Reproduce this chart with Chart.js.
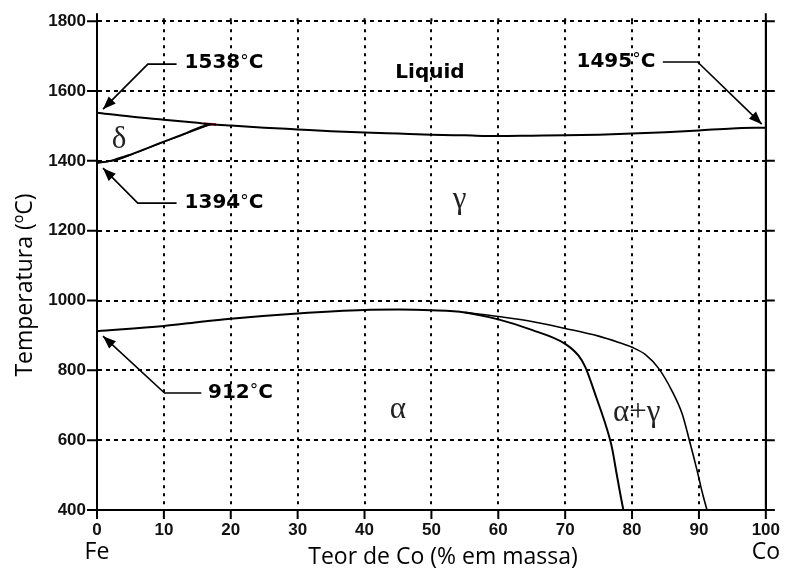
<!DOCTYPE html>
<html lang="pt-BR">
<head>
<meta charset="utf-8">
<title>Diagrama Fe-Co</title>
<script src="https://cdn.jsdelivr.net/npm/chart.js@4.4.1/dist/chart.umd.min.js"></script>
<style>
  html, body { margin: 0; padding: 0; background: #fff; }
  #grafico { display: block; }
</style>
</head>
<body>
<canvas id="grafico" width="790" height="574"></canvas>
<script>
// Diagrama de fases Fe-Co
const xTicks = [0, 10, 20, 30, 40, 50, 60, 70, 80, 90, 100];
const yTicks = [400, 600, 800, 1000, 1200, 1400, 1600, 1800];

// linha liquidus
const liquidus = [[0, 1538], [5, 1527], [10, 1518], [15, 1509], [17, 1505], [20, 1501], [25, 1495], [30, 1490],
  [35, 1485], [40, 1481], [45, 1478], [50, 1475], [55, 1473], [60, 1471], [65, 1472], [70, 1473],
  [75, 1475], [80, 1478], [85, 1482], [90, 1487], [95, 1493], [100, 1495]];
// limites inferiores da fase delta
const deltaLimite = [[0, 1394], [2, 1400], [5, 1418], [8, 1440], [10, 1455], [13, 1477], [15, 1493], [17, 1505]];
const deltaLimite2 = [[0, 1394], [3, 1403], [6, 1424], [9, 1447], [12, 1469], [15, 1490], [17, 1504]];
// trecho peritetico (vermelho)
const peritetico = [[16, 1506], [17.8, 1504]];
// limite alfa / alfa+gama
const alfaLimite = [[0, 912], [10, 927], [15, 938], [20, 948], [30, 963], [40, 973], [45, 974], [50, 972],
  [55, 966], [60, 946], [65, 916], [70, 876], [72, 842], [73, 810], [74.7, 720], [76.2, 635],
  [77, 578], [77.7, 503], [78.2, 450], [78.7, 400]];
// limite gama / alfa+gama
const gamaLimite = [[55, 966], [60, 954], [65, 940], [70, 920], [75, 898], [78, 880], [80, 866], [82, 845],
  [84, 805], [86, 740], [87.5, 675], [88.5, 605], [89.7, 515], [90.5, 450], [91.2, 400]];

// textos dentro do grafico
const rotulos = [
  { texto: '1538', x: 13.1, y: 1680, tipo: 'temp' },
  { texto: '1394', x: 13.1, y: 1279, tipo: 'temp' },
  { texto: '912', x: 16.6, y: 735, tipo: 'temp' },
  { texto: '1495', x: 71.7, y: 1683, tipo: 'temp' },
  { texto: 'Liquid', x: 44.6, y: 1651, tipo: 'nome' },
  { texto: 'δ', x: 3.3, y: 1459, tipo: 'fase' },
  { texto: 'γ', x: 54.2, y: 1287, tipo: 'fase' },
  { texto: 'α', x: 45, y: 686, tipo: 'fase' },
  { texto: 'α+γ', x: 80.7, y: 678, tipo: 'fase' }
];
const setas = [
  [[11.9, 1677], [7.6, 1677], [0.9, 1548]],
  [[11.9, 1279], [6.1, 1279], [0.9, 1379]],
  [[15.6, 735], [10.1, 735], [0.9, 898]],
  [[84.6, 1683], [89.8, 1683], [99.4, 1505]]
];

const pares = arr => arr.map(p => ({ x: p[0], y: p[1] }));

function curva(dados, cor, largura, suave) {
  return {
    data: pares(dados),
    borderColor: cor,
    borderWidth: largura,
    pointRadius: 0,
    fill: false,
    cubicInterpolationMode: suave ? 'monotone' : 'default',
    tension: 0
  };
}

const extras = {
  id: 'extras',
  afterDraw(chart) {
    const { ctx, chartArea: a, scales: { x, y } } = chart;
    ctx.save();

    // moldura e marcas dos eixos
    ctx.strokeStyle = '#000';
    ctx.lineWidth = 2;
    ctx.beginPath();
    ctx.moveTo(a.left, a.top - 8); ctx.lineTo(a.left, a.bottom); ctx.lineTo(a.right, a.bottom); ctx.lineTo(a.right, a.top - 8);
    y.ticks.forEach(t => {
      const py = y.getPixelForValue(t.value);
      ctx.moveTo(a.left - 10, py); ctx.lineTo(a.left, py);
      ctx.moveTo(a.right, py); ctx.lineTo(a.right + 9, py);
    });
    x.ticks.forEach(t => {
      const px = x.getPixelForValue(t.value);
      ctx.moveTo(px, a.bottom); ctx.lineTo(px, a.bottom + 9);
    });
    ctx.stroke();

    // prolongamento pontilhado acima do topo
    ctx.setLineDash([3, 5]);
    ctx.beginPath();
    x.ticks.forEach(t => {
      if (t.value > 0 && t.value < 100) {
        const px = x.getPixelForValue(t.value);
        ctx.moveTo(px, a.top); ctx.lineTo(px, a.top - 8);
      }
    });
    ctx.stroke();
    ctx.setLineDash([]);

    // setas
    ctx.lineWidth = 1.6;
    ctx.fillStyle = '#000';
    setas.forEach(s => {
      const pts = s.map(p => [x.getPixelForValue(p[0]), y.getPixelForValue(p[1])]);
      ctx.beginPath();
      ctx.moveTo(pts[0][0], pts[0][1]);
      pts.slice(1).forEach(p => ctx.lineTo(p[0], p[1]));
      ctx.stroke();
      const [px0, py0] = pts[pts.length - 2];
      const [px1, py1] = pts[pts.length - 1];
      const ang = Math.atan2(py1 - py0, px1 - px0);
      ctx.beginPath();
      ctx.moveTo(px1, py1);
      ctx.lineTo(px1 - 13 * Math.cos(ang) + 5 * Math.sin(ang), py1 - 13 * Math.sin(ang) - 5 * Math.cos(ang));
      ctx.lineTo(px1 - 13 * Math.cos(ang) - 5 * Math.sin(ang), py1 - 13 * Math.sin(ang) + 5 * Math.cos(ang));
      ctx.closePath();
      ctx.fill();
    });

    // rotulos
    ctx.textBaseline = 'middle';
    rotulos.forEach(r => {
      let px = x.getPixelForValue(r.x);
      const py = y.getPixelForValue(r.y);
      ctx.fillStyle = '#000';
      if (r.tipo === 'temp') {
        // numero em negrito, grau fino, C em negrito
        ctx.textAlign = 'left';
        ctx.font = 'bold 20px "DejaVu Sans"';
        ctx.fillText(r.texto, px, py);
        px += ctx.measureText(r.texto).width;
        ctx.font = '17px "DejaVu Sans"';
        ctx.fillText('°', px, py - 1);
        px += ctx.measureText('°').width;
        ctx.font = 'bold 20px "DejaVu Sans"';
        ctx.fillText('C', px, py);
      } else if (r.tipo === 'nome') {
        ctx.textAlign = 'left';
        ctx.font = 'bold 20px "DejaVu Sans"';
        ctx.fillText(r.texto, px, py);
      } else {
        ctx.font = '31px "Liberation Serif"';
        ctx.fillStyle = '#222';
        ctx.textAlign = 'center';
        ctx.fillText(r.texto, px, py);
      }
    });

    // titulos dos eixos e Fe / Co
    ctx.fillStyle = '#000';
    ctx.font = '23px "Open Sans"';
    ctx.textAlign = 'center';
    ctx.fillText('Teor de Co (% em massa)', 443, 557);
    ctx.fillText('Fe', x.getPixelForValue(0), 552);
    ctx.fillText('Co', x.getPixelForValue(100), 552);
    ctx.translate(25, 285);
    ctx.rotate(-Math.PI / 2);
    ctx.fillText('Temperatura (ºC)', 0, 0);

    ctx.restore();
  }
};

const fonteTicks = { family: 'Liberation Sans', size: 17, weight: 'bold' };

new Chart(document.getElementById('grafico'), {
  type: 'line',
  data: {
    datasets: [
      curva(liquidus, '#000', 2, true),
      curva(deltaLimite, '#000', 2, true),
      curva(deltaLimite2, '#000', 1.2, true),
      curva(alfaLimite, '#000', 2, true),
      curva(gamaLimite, '#000', 1.6, true),
      curva(peritetico, '#e00000', 2.5, false)
    ]
  },
  options: {
    responsive: false,
    animation: false,
    devicePixelRatio: 1,
    layout: { padding: { top: 21, left: 0, right: 0, bottom: 0 } },
    plugins: { legend: { display: false }, tooltip: { enabled: false } },
    scales: {
      x: {
        type: 'linear',
        min: 0,
        max: 100,
        afterBuildTicks: s => { s.ticks = xTicks.map(v => ({ value: v })); },
        afterFit: s => { s.height = 64; },
        ticks: { font: fonteTicks, color: '#111', padding: 10, maxRotation: 0, callback: v => String(v) },
        grid: {
          drawTicks: false,
          lineWidth: 2,
          color: c => (c.tick && (c.tick.value === 0 || c.tick.value === 100)) ? 'rgba(0,0,0,0)' : '#000'
        },
        border: { display: true, color: '#000', width: 2, dash: [3, 5] }
      },
      y: {
        type: 'linear',
        min: 400,
        max: 1800,
        afterBuildTicks: s => { s.ticks = yTicks.map(v => ({ value: v })); },
        afterFit: s => { s.width = 97; },
        ticks: { font: fonteTicks, color: '#111', padding: 11, callback: v => String(v) },
        grid: {
          drawTicks: false,
          lineWidth: 2,
          color: c => (c.tick && c.tick.value === 400) ? 'rgba(0,0,0,0)' : '#000'
        },
        border: { display: true, color: '#000', width: 2, dash: [4, 4] }
      },
      y2: {
        type: 'linear',
        position: 'right',
        min: 400,
        max: 1800,
        afterFit: s => { s.width = 19; },
        ticks: { display: false },
        grid: { display: false, drawTicks: false },
        border: { display: true, color: '#000', width: 2 }
      }
    }
  },
  plugins: [extras]
});
</script>
</body>
</html>
